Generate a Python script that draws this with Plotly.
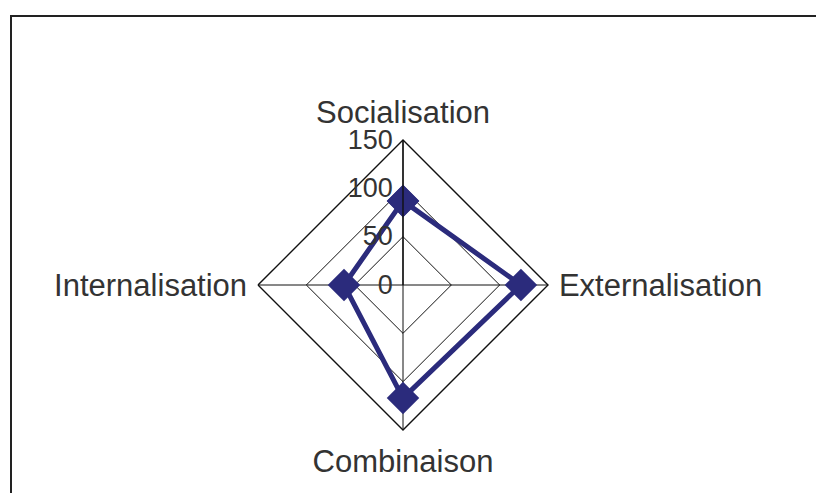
import plotly.graph_objects as go

# Axes du modèle SECI et scores
axes = ['Socialisation', 'Externalisation', 'Combinaison', 'Internalisation']
scores = [87, 122, 117, 61]
radial_ticks = [0, 50, 100, 150]

W, H = 824, 493
off = 8  # marge du body html
cx, cy, r = 403 - off, 285 - off, 145

fig = go.Figure()
fig.add_trace(go.Scatterpolar(
    r=scores + scores[:1],
    theta=axes + axes[:1],
    mode='lines+markers',
    line=dict(color='#2b2b7c', width=5),
    marker=dict(symbol='diamond', size=25, color='#2b2b7c'),
    showlegend=False,
))

fig.update_layout(
    width=W, height=H,
    margin=dict(l=0, r=0, t=0, b=0),
    paper_bgcolor='white',
    font=dict(family='Arial, Liberation Sans, sans-serif', color='#333333', size=31),
    polar=dict(
        domain=dict(x=[(cx - r) / W, (cx + r) / W], y=[(H - cy - r) / H, (H - cy + r) / H]),
        bgcolor='white',
        gridshape='linear',
        radialaxis=dict(
            range=[0, 150], tickvals=radial_ticks, angle=90, tickangle=90,
            side='counterclockwise',
            showline=True, linecolor='#111', linewidth=1.4,
            gridcolor='#111', gridwidth=1.3, ticks='',
            tickfont=dict(size=27, color='#333'),
        ),
        angularaxis=dict(
            direction='clockwise', rotation=90,
            showline=True, linecolor='#111', linewidth=1.4,
            gridcolor='#111', gridwidth=1.3,
            ticks='outside', ticklen=4, tickcolor='rgba(0,0,0,0)',
            tickfont=dict(size=31, color='#333'),
        ),
    ),
    shapes=[dict(
        type='rect', xref='paper', yref='paper',
        x0=(11 - off) / W, x1=1.05, y0=-0.05, y1=(H - 16 + off) / H,
        line=dict(color='#222', width=2), fillcolor='rgba(0,0,0,0)',
    )],
)

fig.write_html('out.html')
